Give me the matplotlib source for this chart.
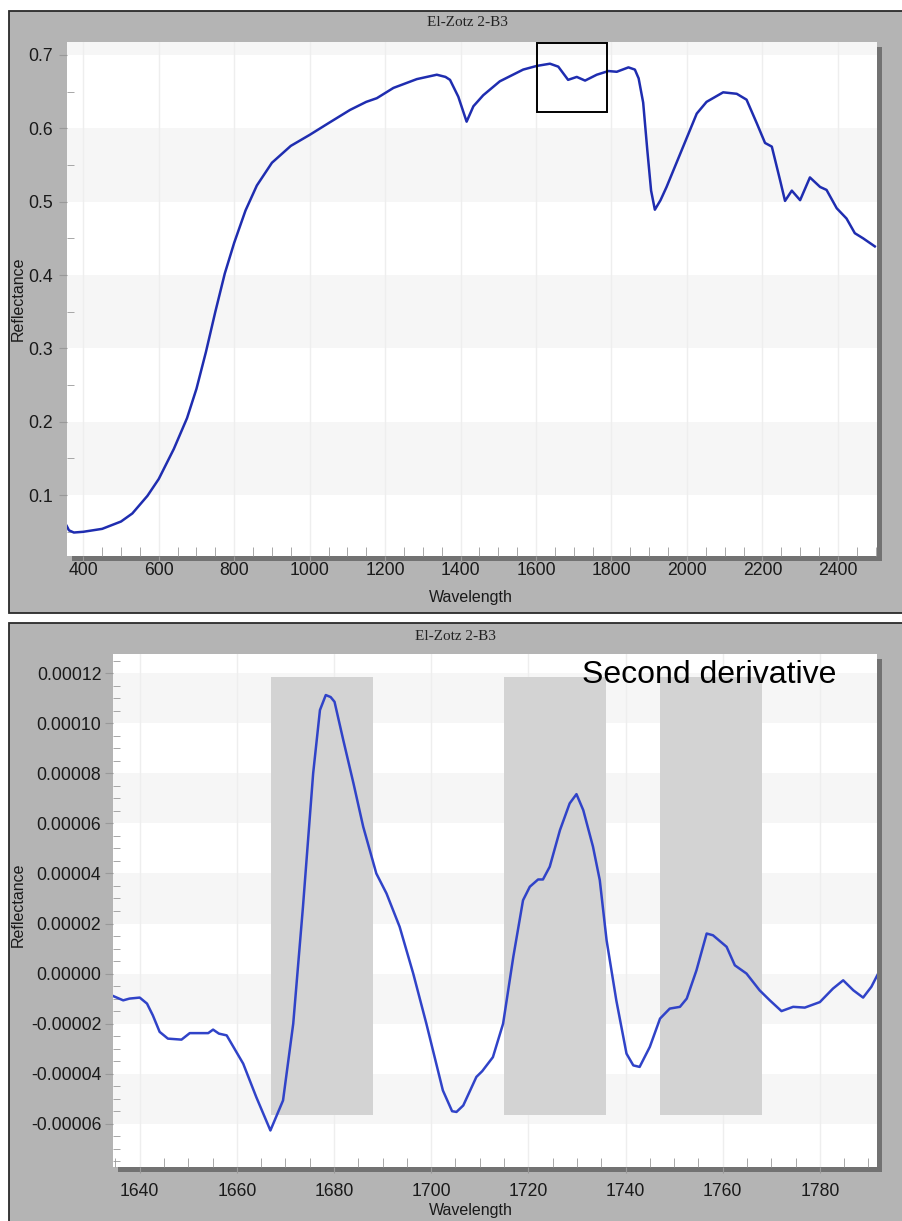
import numpy as np
import matplotlib
matplotlib.use("Agg")
import matplotlib.pyplot as plt
from matplotlib.patches import Rectangle
from matplotlib.ticker import MultipleLocator, FormatStrFormatter

plt.rcParams['font.family'] = ['Liberation Sans', 'DejaVu Sans']

# full spectrum (top panel)
wl_full = [356, 362, 375, 400, 450, 500, 530, 570, 600, 640, 675, 700, 725, 750,
           775, 800, 830, 860, 900, 950, 1000, 1050, 1107, 1150, 1178, 1222, 1284,
           1337, 1360, 1372, 1394, 1416, 1434, 1460, 1504, 1566, 1602, 1637, 1659,
           1685, 1708, 1730, 1761, 1792, 1814, 1845, 1862, 1872, 1884, 1895, 1905,
           1915, 1930, 1946, 1990, 2026, 2052, 2096, 2132, 2158, 2185, 2207, 2225,
           2247, 2260, 2278, 2300, 2326, 2353, 2370, 2397, 2423, 2445, 2467, 2498]
refl_full = [0.058, 0.052, 0.049, 0.050, 0.054, 0.064, 0.075, 0.099, 0.122, 0.163,
             0.205, 0.245, 0.295, 0.350, 0.402, 0.444, 0.488, 0.522, 0.553, 0.576,
             0.591, 0.607, 0.625, 0.636, 0.641, 0.655, 0.667, 0.673, 0.670, 0.666,
             0.643, 0.609, 0.630, 0.645, 0.664, 0.680, 0.685, 0.688, 0.684, 0.666,
             0.670, 0.665, 0.673, 0.678, 0.677, 0.683, 0.680, 0.668, 0.635, 0.570,
             0.515, 0.489, 0.502, 0.520, 0.575, 0.620, 0.636, 0.649, 0.647, 0.639,
             0.607, 0.580, 0.575, 0.529, 0.501, 0.515, 0.502, 0.533, 0.520, 0.516,
             0.491, 0.477, 0.457, 0.450, 0.439]

# zoom box drawn on the full spectrum
box_wl = [1602, 1788]
box_refl = [0.622, 0.716]

# second derivative (bottom panel)
wl_zoom = [1634.2, 1636.6, 1637.9, 1640.0, 1641.5, 1642.7, 1644.1, 1645.8, 1648.6,
           1650.3, 1654.1, 1655.1, 1656.3, 1657.9, 1661.3, 1664.0, 1666.9, 1669.5,
           1671.6, 1673.6, 1675.7, 1677.1, 1678.3, 1679.3, 1680.1, 1681.9, 1684.0,
           1686.0, 1688.7, 1690.8, 1693.5, 1696.3, 1699.0, 1702.4, 1704.3, 1705.2,
           1706.6, 1709.3, 1710.5, 1712.7, 1714.8, 1716.9, 1718.9, 1720.3, 1722.0,
           1723.0, 1724.4, 1726.5, 1728.5, 1729.9, 1731.3, 1733.3, 1734.7, 1736.1,
           1738.1, 1740.2, 1741.6, 1742.9, 1745.0, 1747.1, 1749.1, 1751.2, 1752.6,
           1754.6, 1756.7, 1758.0, 1760.8, 1762.5, 1764.9, 1767.6, 1769.7, 1772.1,
           1774.5, 1776.9, 1780.0, 1782.7, 1784.8, 1786.9, 1788.9, 1790.6, 1792.0]
d2_zoom = [-8.7, -10.7, -10.0, -9.6, -12.0, -16.7, -23.3, -26.0, -26.4,
           -23.8, -23.8, -22.4, -24.0, -24.7, -36.0, -49.4, -62.7, -50.7,
           -20.0, 26.6, 80.0, 105.3, 111.3, 110.5, 108.6, 93.3, 76.0,
           58.7, 40.0, 32.0, 18.7, 0.0, -20.0, -46.7, -55.0, -55.3,
           -52.7, -41.3, -39.0, -33.4, -20.0, 6.7, 29.3, 34.7, 37.6,
           37.6, 42.7, 57.3, 68.0, 71.7, 65.3, 50.7, 37.3, 13.3,
           -10.7, -32.0, -36.7, -37.3, -29.3, -18.0, -14.0, -13.3, -10.0,
           1.3, 16.0, 15.3, 10.7, 3.3, 0.0, -6.7, -10.7, -15.0,
           -13.3, -13.6, -11.4, -6.0, -2.7, -6.7, -9.6, -5.3, 0.0]
d2_zoom = [v * 1e-6 for v in d2_zoom]

# highlighted absorption windows
span_start = [1667, 1715, 1747]
span_end = [1688, 1736, 1768]
span_low = -0.0000567
span_high = 0.0001187

W, H = 902, 1221
fig = plt.figure(figsize=(W / 100, H / 100), dpi=100)


def fx(px):
    return px / W


def fy(py):
    return 1 - py / H


def panel(top, bottom):
    fig.patches.append(Rectangle((fx(9), fy(bottom)), fx(1100), (bottom - top) / H,
                                 transform=fig.transFigure, facecolor='#b4b4b4',
                                 edgecolor='#2a2a2a', lw=1.3, zorder=-5))


def make_axes(left, top, right, bottom):
    fig.patches.append(Rectangle((fx(left + 5), fy(bottom + 5)), (right - left) / W,
                                 (bottom - top) / H, transform=fig.transFigure,
                                 facecolor='#727272', edgecolor='none', zorder=-4))
    ax = fig.add_axes([fx(left), fy(bottom), (right - left) / W, (bottom - top) / H])
    ax.set_facecolor('white')
    for s in ax.spines.values():
        s.set_visible(False)
    ax.grid(axis='x', color='#eeeeee', lw=1.0)
    ax.set_axisbelow(True)
    return ax


panel(11, 613)
panel(623, 1400)

# ---- top: full spectrum ----
ax1 = make_axes(66.7, 41.7, 876.7, 556)
ax1.set_xlim(356, 2503)
ax1.set_ylim(0.017, 0.718)
for lo in np.arange(0.1, 0.8, 0.2):
    ax1.axhspan(lo, lo + 0.1, color='#f6f6f6', lw=0, zorder=0.05)
ax1.plot(wl_full, refl_full, color='#1f2db0', lw=1.8, zorder=3)
ax1.add_patch(Rectangle((box_wl[0], box_refl[0]), box_wl[1] - box_wl[0],
                        box_refl[1] - box_refl[0], fill=False,
                        edgecolor='black', lw=1.4, zorder=4))
ax1.xaxis.set_major_locator(MultipleLocator(200))
ax1.xaxis.set_minor_locator(MultipleLocator(50))
ax1.yaxis.set_major_locator(MultipleLocator(0.1))
ax1.yaxis.set_minor_locator(MultipleLocator(0.05))
ax1.yaxis.set_major_formatter(FormatStrFormatter('%.1f'))
ax1.tick_params(axis='x', which='major', direction='out', length=4, pad=0.5,
                color='#999999', labelsize=12.7, labelcolor='#1a1a1a')
ax1.tick_params(axis='x', which='minor', direction='in', length=6.5, color='#999999')
ax1.tick_params(axis='y', which='major', direction='out', length=6, pad=3.6,
                color='#999999', labelsize=12.7, labelcolor='#1a1a1a')
ax1.tick_params(axis='y', which='minor', direction='in', length=5, color='#999999')
fig.text(fx(467), fy(22), 'El-Zotz 2-B3', family='Liberation Serif', fontsize=11,
         ha='center', va='center', color='#222222')
fig.text(fx(471), fy(598), 'Wavelength', fontsize=11.5, ha='center', va='center',
         color='#1a1a1a')
fig.text(fx(18), fy(299), 'Reflectance', fontsize=11.5, ha='center', va='center',
         rotation=90, color='#1a1a1a')

# ---- bottom: second derivative ----
ax2 = make_axes(113, 654, 876.7, 1167)
ax2.set_xlim(1634.5, 1791.7)
ax2.set_ylim(-0.0000773, 0.0001277)
for lo in np.arange(-0.00006, 0.00012, 0.00004):
    ax2.axhspan(lo, lo + 0.00002, color='#f6f6f6', lw=0, zorder=0.05)
for a, b in zip(span_start, span_end):
    ax2.fill_between([a, b], span_low, span_high, color='#d3d3d3', lw=0, zorder=1)
ax2.plot(wl_zoom, d2_zoom, color='#3043c8', lw=1.8, zorder=3)
ax2.xaxis.set_major_locator(MultipleLocator(20))
ax2.xaxis.set_minor_locator(MultipleLocator(5))
ax2.yaxis.set_major_locator(MultipleLocator(0.00002))
ax2.yaxis.set_minor_locator(MultipleLocator(0.000005))
ax2.yaxis.set_major_formatter(FormatStrFormatter('%.5f'))
ax2.tick_params(axis='x', which='major', direction='out', length=4, pad=7.5,
                color='#999999', labelsize=12.7, labelcolor='#1a1a1a')
ax2.tick_params(axis='x', which='minor', direction='in', length=6.5, color='#999999')
ax2.tick_params(axis='y', which='major', direction='out', length=6, pad=2.4,
                color='#999999', labelsize=12.7, labelcolor='#1a1a1a')
ax2.tick_params(axis='y', which='minor', direction='in', length=5, color='#999999')
fig.text(fx(581.7), fy(683), 'Second derivative', fontsize=23, color='black',
         ha='left', va='baseline', zorder=5)
fig.text(fx(455), fy(637), 'El-Zotz 2-B3', family='Liberation Serif', fontsize=11,
         ha='center', va='center', color='#222222')
fig.text(fx(471), fy(1210), 'Wavelength', fontsize=11.5, ha='center', va='center',
         color='#1a1a1a')
fig.text(fx(18), fy(905), 'Reflectance', fontsize=11.5, ha='center', va='center',
         rotation=90, color='#1a1a1a')

fig.savefig('out.png', dpi=100)
